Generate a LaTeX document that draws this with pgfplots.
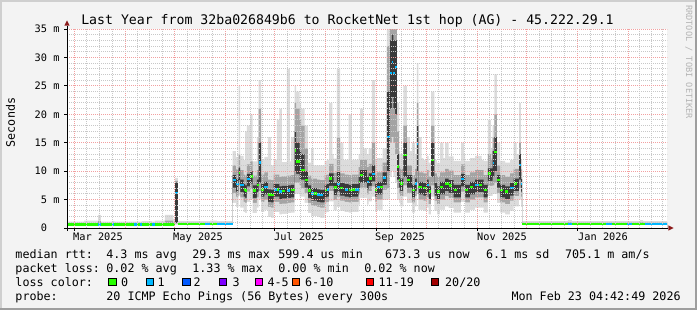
\documentclass[border=0pt]{standalone}
\usepackage{fontspec}
\setmainfont{DejaVu Sans Mono}
\usepackage{pgfplots}
\usepackage{pgfplotstable}
\pgfplotsset{compat=1.18}

\definecolor{bgc}{HTML}{F3F3F3}
\definecolor{brdl}{HTML}{CFCFCF}
\definecolor{brdd}{HTML}{9E9E9E}
\definecolor{gridc}{HTML}{C8C8C8}
\definecolor{mgridc}{HTML}{F2A0A0}
\definecolor{arrowc}{HTML}{8B1A1A}
\definecolor{sk1}{HTML}{DCDCDC}
\definecolor{sk2}{HTML}{A4A4A4}
\definecolor{sk3}{HTML}{3A3A3A}
\definecolor{lc0}{HTML}{26FF00}
\definecolor{lc1}{HTML}{00B8FF}
\definecolor{lc2}{HTML}{0059FF}
\definecolor{lc3}{HTML}{7E00FF}
\definecolor{lc4}{HTML}{FF00FF}
\definecolor{lc6}{HTML}{FF5500}
\definecolor{lc11}{HTML}{FF0000}
\definecolor{lc20}{HTML}{A10000}
\definecolor{wmc}{HTML}{B4B4B4}

\newcommand{\fT}{\fontsize{13.2bp}{15bp}\selectfont}
\newcommand{\fL}{\fontsize{11.7bp}{14bp}\selectfont}
\newcommand{\fA}{\fontsize{10.3bp}{12bp}\selectfont}
\newcommand{\fW}{\fontsize{8.6bp}{10bp}\selectfont}

% d = days since 1 Mar 2025; smoke percentiles in ms; lg/lc = median (green / blue loss class), -10 = not this class
\pgfplotstableread{
d lo p10 p25 med p75 p90 hi lg lc
-4.26 .45 .5 .55 .6 .68 .8 1.1 .6 -10
6.1 .45 .5 .55 .6 .68 .85 1.3 .6 -10
14.6 .45 .5 .55 .6 .75 1.2 2.3 -10 .6
16.4 .45 .5 .55 .6 .68 .8 1.1 .6 -10
23.1 .45 .5 .55 .6 .68 .8 1.2 -10 .6
24.6 .45 .5 .55 .6 .68 .8 1.1 .6 -10
36.5 .45 .5 .55 .6 .68 .8 1.1 -10 .6
38.3 .45 .5 .55 .6 .68 .8 1.1 .6 -10
40.1 .45 .5 .55 .6 .68 .8 1.1 -10 .6
41.3 .45 .5 .55 .6 .68 .8 1.2 .6 -10
47.4 .45 .5 .55 .6 .68 .8 1.1 -10 .6
49.2 .45 .5 .55 .6 .68 .85 1.3 .6 -10
55.3 .45 .5 .55 .62 .75 1.3 2.3 .62 -10
60.2 .45 .5 .55 .62 .75 1.0 1.6 .62 -10
61.4 .6 .8 .9 6.2 8.0 8.3 8.8 -10 6.2
63.2 .55 .6 .64 .72 .8 .9 1.2 .72 -10
79.6 .55 .6 .64 .72 .8 .9 1.2 -10 .72
82.7 .55 .6 .64 .72 .8 .9 1.3 .72 -10
86.9 .55 .6 .64 .72 .8 .9 1.2 -10 .72
96.35 4.4 6.2 7.1 8.4 9.3 11.0 13.5 -10 8.4
98.36 3.7 5.5 6.4 7.7 8.6 10.3 12.5 -10 7.7
100.0 5.7 7.5 8.4 9.7 10.6 13.0 25 9.7 -10
101.03 3.6 5.4 6.3 7.6 8.5 10.2 12.7 -10 7.6
103.04 2.8 4.6 5.5 6.8 7.7 9.4 12 6.8 -10
104.07 2.6 4.4 5.3 6.6 7.5 9.2 17 6.6 -10
105.05 4.6 6.4 7.3 8.6 9.5 11.2 18 -10 8.6
107.11 5.1 6.9 7.8 9.1 10.0 11.7 20 9.1 -10
108.51 2.6 4.4 5.3 6.6 7.5 9.2 11.7 6.6 -10
110.4 2.6 4.4 5.3 6.6 7.5 9.2 11.7 -10 -10
111.12 3.6 5.4 6.3 7.6 8.5 10.2 16 7.6 -10
112.16 5.0 6.5 8.0 11.5 15.0 21.0 26 -10 11.5
113.80 2.8 4.6 5.5 6.8 7.7 9.4 12 6.8 -10
115.80 3.2 5.0 5.9 7.2 8.1 9.8 12.5 -10 7.2
117.81 1.9 3.7 4.6 5.9 6.8 8.5 16 5.9 -10
119.88 1.8 3.6 4.5 5.8 6.7 8.4 11 5.8 -10
121.28 2.8 4.6 5.5 6.8 7.7 9.4 12 -10 6.8
123.28 2.8 4.6 5.5 6.8 7.7 9.4 19 6.8 -10
124.92 2.4 4.2 5.1 6.4 7.3 9.0 21 -10 6.4
126.32 2.5 4.3 5.2 6.5 7.4 9.1 11.6 6.5 -10
128.2 2.5 4.3 5.2 6.5 7.4 9.1 11.6 -10 -10
129.36 2.6 4.4 5.3 6.6 7.5 9.2 28 -10 6.6
131.2 2.6 4.4 5.3 6.6 7.5 9.2 11.7 -10 -10
132.04 2.7 4.5 5.4 6.7 7.6 9.3 16 6.7 -10
134.04 6.0 8.0 10.0 13.6 17.0 22.0 25 13.6 -10
135.08 6.0 8.0 9.5 11.7 15.0 21.0 24 11.7 -10
137.08 5.5 7.5 8.5 10.5 13.5 19.0 22 -10 10.5
138.11 5.5 7.0 8.5 10.2 13.0 18.0 21 10.2 -10
140.12 4.4 6.2 7.1 8.4 10.0 14.0 18 8.4 -10
142.13 2.6 4.4 5.3 6.6 7.5 9.2 11.5 6.6 -10
144.19 2.1 3.9 4.8 6.1 7.0 8.7 14 -10 6.1
145.59 2.1 3.9 4.8 6.1 7.0 8.7 11 6.1 -10
147.60 1.9 3.7 4.6 5.9 6.8 8.5 11 -10 5.9
149.66 1.8 3.6 4.5 5.8 6.7 8.4 11 -10 5.8
151.5 1.8 3.6 4.5 5.8 6.7 8.4 11 -10 -10
152.28 2.7 4.5 5.4 6.7 7.6 9.3 11.8 6.7 -10
153.68 2.8 4.6 5.5 6.8 7.7 9.4 12 -10 6.8
155.14 4.7 6.5 7.4 8.7 9.6 11.3 22 8.7 -10
157.0 4.7 6.5 7.4 8.7 9.6 11.3 13 -10 -10
157.75 3.1 4.9 5.8 7.1 8.0 9.7 12.2 7.1 -10
159.76 3.7 5.5 6.4 7.7 10.0 16.0 28 -10 7.7
161.82 3.0 4.8 5.7 7.0 7.9 9.6 15 7.0 -10
163.7 3.0 4.8 5.7 7.0 7.9 9.6 12 -10 -10
164.44 2.8 4.6 5.5 6.8 7.7 9.4 12 -10 6.8
166.3 2.8 4.6 5.5 6.8 7.7 9.4 12 -10 -10
166.87 2.7 4.5 5.4 6.7 7.6 9.3 20 6.7 -10
168.87 2.8 4.6 5.5 6.8 7.7 9.4 12 6.8 -10
170.94 2.8 4.6 5.5 6.8 7.7 9.4 12 -10 6.8
172.95 4.1 5.9 6.8 8.1 9.0 10.7 13 8.1 -10
173.98 5.3 7.1 8.0 9.3 10.2 12.0 21 9.3 -10
175.8 5.3 7.1 8.0 9.3 10.2 12.0 14 -10 -10
178.00 4.1 5.9 6.8 8.1 9.0 10.7 13 -10 8.1
179.03 4.7 6.5 7.4 8.7 9.6 11.3 14 8.7 -10
181.03 5.5 7.3 8.2 9.5 11.0 15.0 26 -10 9.5
183.10 2.8 4.6 5.5 6.8 7.7 9.4 12 6.8 -10
184.07 3.2 5.0 5.9 7.2 8.1 9.8 12.3 -10 7.2
186.14 3.2 5.0 5.9 7.2 8.1 9.8 12.3 7.2 -10
187.54 4.9 6.7 7.6 8.9 9.8 11.5 14 -10 8.9
189.4 4.9 6.7 7.6 8.9 9.8 11.5 14 -10 -10
190.15 5.0 7.0 10.0 16.0 24.0 32.0 36 -10 16.0
192.22 9.0 15.0 21.0 27.3 33.0 36.0 36 -10 27.3
193.19 10.0 16.0 23.0 29.2 34.0 36.0 36 -10 29.2
194.22 9.0 15.0 21.0 27.3 33.0 36.0 36 -10 27.3
195.26 8.0 13.0 20.0 28.3 33.0 36.0 36 -10 28.3
196.23 5.0 7.0 8.5 10.8 13.0 17.0 22 10.8 -10
197.69 4.4 6.2 7.1 8.4 9.3 11.0 13.5 8.4 -10
198.30 3.8 5.6 6.5 7.8 8.7 10.4 13 7.8 -10
200.30 5.5 7.5 9.0 12.8 15.0 18.0 25 12.8 -10
202.31 4.4 6.2 7.1 8.4 9.3 11.0 16 8.4 -10
204.2 4.4 6.2 7.1 8.4 9.3 11.0 13.5 -10 -10
205.35 2.7 4.5 5.4 6.7 7.6 9.3 15 6.7 -10
207.42 3.8 5.6 6.5 7.8 8.7 10.4 13 -10 7.8
208.39 6.0 8.0 10.0 14.8 18.0 22.0 29 -10 14.8
209.42 3.2 5.0 5.9 7.2 8.1 9.8 16 7.2 -10
211.3 3.2 5.0 5.9 7.2 8.1 9.8 12.3 -10 -10
212.46 3.0 4.8 5.7 7.0 7.9 9.6 12 7.0 -10
214.47 3.6 5.4 6.3 7.6 8.5 10.2 12.7 -10 7.6
215.50 2.4 4.2 5.1 6.4 7.3 9.0 11.5 6.4 -10
217.14 5.5 7.5 9.0 12.0 15.0 18.0 24 12.0 -10
219.0 3.0 4.8 5.7 7.0 7.9 9.6 12 -10 -10
220.55 2.4 4.2 5.1 6.4 7.3 9.0 11.5 6.4 -10
222.61 3.2 5.0 5.9 7.2 8.1 9.8 15 7.2 -10
224.5 3.2 5.0 5.9 7.2 8.1 9.8 12.3 -10 -10
225.65 3.8 5.6 6.5 7.8 8.7 10.4 15 7.8 -10
227.66 3.5 5.3 6.2 7.5 8.4 10.1 12.6 7.5 -10
229.5 3.5 5.3 6.2 7.5 8.4 10.1 12.6 -10 -10
230.70 2.7 4.5 5.4 6.7 7.6 9.3 11.8 6.7 -10
232.6 2.7 4.5 5.4 6.7 7.6 9.3 11.8 -10 -10
235.38 4.6 6.4 7.3 8.6 9.5 11.2 15 -10 8.6
237.2 4.6 6.4 7.3 8.6 9.5 11.2 13 -10 -10
237.81 2.7 4.5 5.4 6.7 7.6 9.3 11.8 6.7 -10
239.7 2.7 4.5 5.4 6.7 7.6 9.3 11.8 -10 -10
240.85 3.2 5.0 5.9 7.2 8.1 9.8 12.3 7.2 -10
242.7 3.2 5.0 5.9 7.2 8.1 9.8 12.3 -10 -10
243.89 3.6 5.4 6.3 7.6 8.5 10.2 12.7 -10 7.6
245.90 3.6 5.4 6.3 7.6 8.5 10.2 12.7 7.6 -10
247.8 3.6 5.4 6.3 7.6 8.5 10.2 12 -10 -10
248.94 2.7 4.5 5.4 6.7 7.6 9.3 11.8 6.7 -10
250.8 2.7 4.5 5.4 6.7 7.6 9.3 11.8 -10 -10
251.55 5.6 7.4 8.3 9.6 10.5 13.0 19 9.6 -10
253.4 5.6 7.4 8.3 9.6 10.5 12.2 14 -10 -10
254.41 6.0 7.5 9.0 11.4 13.5 16.0 18 -10 11.4
255.62 6.0 8.0 10.0 13.4 16.0 20.0 27 13.4 -10
257.02 4.4 6.2 7.1 8.4 9.3 11.0 15 8.4 -10
259.09 2.7 4.5 5.4 6.7 7.6 9.3 11.8 6.7 -10
261.0 2.7 4.5 5.4 6.7 7.6 9.3 11.8 -10 -10
262.13 2.4 4.2 5.1 6.4 7.3 9.0 11.5 6.4 -10
264.0 2.4 4.2 5.1 6.4 7.3 9.0 11.5 -10 -10
265.17 3.0 4.8 5.7 7.0 7.9 9.6 12 -10 7.0
267.18 3.8 5.6 6.5 7.8 8.7 10.4 15 7.8 -10
269.1 3.8 5.6 6.5 7.8 8.7 10.4 13 -10 -10
270.64 5.0 7.0 8.5 11.1 13.0 15.0 22 -10 11.1
271.61 3.7 5.5 6.4 7.7 8.6 10.3 12 -10 7.7
272.34 .55 .6 .64 .72 .8 .9 1.2 .72 -10
300.3 .55 .6 .64 .72 .8 1.0 1.4 -10 .72
302.7 .55 .6 .64 .72 .8 .9 1.2 .72 -10
323.4 .55 .6 .64 .72 .8 .9 1.2 -10 .72
327.0 .55 .6 .64 .72 .8 .9 1.2 .72 -10
336.2 .55 .6 .64 .72 .8 .9 1.2 -10 .72
339.0 .55 .6 .64 .72 .8 .9 1.2 .72 -10
344.1 .55 .6 .64 .72 .8 1.0 1.4 .72 -10
346.0 .55 .6 .64 .72 .8 .9 1.2 .72 -10
347.1 .55 .6 .64 .72 .8 .9 1.2 -10 .72
360.5 .55 .6 .64 .72 .8 .9 1.2 -10 .72
}\smoke

\begin{document}
\begin{tikzpicture}[x=1bp,y=1bp]
\useasboundingbox (0,0) rectangle (697,310);
\fill[bgc] (0,0) rectangle (697,310);
\fill[brdl] (0,0) rectangle (2,310);
\fill[brdl] (0,308) rectangle (697,310);
\fill[brdd] (0,0) rectangle (697,2);
\fill[brdd] (695,0) rectangle (697,310);
\fill[white] (67,82) rectangle (667,281);

\begin{axis}[
  at={(67bp,82bp)}, anchor=south west,
  scale only axis, width=600bp, height=199bp,
  xmin=-4.26, xmax=360.5, ymin=0, ymax=35,
  axis on top, clip=true,
  axis line style={draw=none},
  major tick length=0pt, minor tick length=0pt,
  xtick={0,31,61,92,122,153,184,214,245,275,306,337},
  xticklabels={},
  minor xtick={7.75,15.5,23.25,38.5,46,53.5,68.75,76.5,84.25,99.5,107,114.5,129.75,137.5,145.25,160.75,168.5,176.25,191.5,199,206.5,221.75,229.5,237.25,252.5,260,267.5,282.75,290.5,298.25,313.75,321.5,329.25,344,351,358},
  extra x ticks={14.6,75.4,136.8,198.2,260.2,321.6},
  extra x tick labels={Mar 2025,May 2025,Jul 2025,Sep 2025,Nov 2025,Jan 2026},
  extra x tick style={grid=none},
  xticklabel style={font=\fA, anchor=base, inner sep=0pt, yshift=-12bp},
  ytick={0,5,10,15,20,25,30,35},
  yticklabels={0\hphantom{xm},5 m,10 m,15 m,20 m,25 m,30 m,35 m},
  minor y tick num=4,
  yticklabel style={font=\fA, anchor=east, inner sep=0pt, xshift=-7.3bp},
  grid=both,
  major grid style={draw=mgridc, line width=1bp, dash pattern=on 1bp off 1bp},
  minor grid style={draw=gridc, line width=1bp, dash pattern=on 1bp off 1bp},
]
\addplot[const plot, fill=sk1, draw=none] table[x=d,y=hi] {\smoke} \closedcycle;
\addplot[const plot, fill=sk2, draw=none] table[x=d,y=p90] {\smoke} \closedcycle;
\addplot[const plot, fill=sk3, draw=none] table[x=d,y=p75] {\smoke} \closedcycle;
\addplot[const plot, fill=sk2, draw=none] table[x=d,y=p25] {\smoke} \closedcycle;
\addplot[const plot, fill=sk1, draw=none] table[x=d,y=p10] {\smoke} \closedcycle;
\addplot[const plot, fill=white, draw=none] table[x=d,y=lo] {\smoke} \closedcycle;
\addplot[jump mark left, draw=lc0, line width=2.5bp] table[x=d,y=lg] {\smoke};
\addplot[jump mark left, draw=lc1, line width=2.5bp] table[x=d,y=lc] {\smoke};
\end{axis}

% axes with arrows
\draw[black, line width=1bp] (67,79) -- (67,284.3);
\fill[arrowc] (67,289.5) -- (64.3,284.3) -- (69.7,284.3) -- cycle;
\draw[black, line width=1bp] (64,82) -- (668.3,82);
\fill[arrowc] (673.5,82) -- (668.3,84.7) -- (668.3,79.3) -- cycle;
\foreach \xx in {74,174.3,274.7,376.7,477,577.4} {\draw[black, line width=1bp] (\xx,82) -- (\xx,79);}
\foreach \yy in {110.4,138.9,167.3,195.7,224.1,252.6,281} {\draw[black, line width=1bp] (64,\yy) -- (67,\yy);}

% title, unit, watermark
\node[anchor=base, inner sep=0pt] at (347.5,286) {\fT Last Year from 32ba026849b6 to RocketNet 1st hop (AG) - 45.222.29.1};
\node[rotate=90, inner sep=0pt] at (10.5,187.5) {\fL Seconds};
\node[rotate=-90, anchor=west, inner sep=0pt, text=wmc] at (689,305) {\fW RRDTOOL / TOBI OETIKER};

% legend
\begin{scope}[every node/.style={anchor=base west, inner sep=0pt}]
\node at (15.3,52) {\fL median rtt:};
\node at (106.2,52) {\fL 4.3 ms avg};
\node at (192.2,52) {\fL 29.3 ms max};
\node at (278.2,52) {\fL 599.4 us min};
\node at (384.9,52) {\fL 673.3 us now};
\node at (485.9,52) {\fL 6.1 ms sd};
\node at (564.9,52) {\fL 705.1 m am/s};

\node at (15.3,38) {\fL packet loss:};
\node at (106.2,38) {\fL 0.02 \% avg};
\node at (192.2,38) {\fL 1.33 \% max};
\node at (278.2,38) {\fL 0.00 \% min};
\node at (364.2,38) {\fL 0.02 \% now};

\node at (15.3,24) {\fL loss color:};
\node at (121,24) {\fL 0};
\node at (157.5,24) {\fL 1};
\node at (193.5,24) {\fL 2};
\node at (232.3,24) {\fL 3};
\node at (267.3,24) {\fL 4-5};
\node at (305,24) {\fL 6-10};
\node at (378.5,24) {\fL 11-19};
\node at (445,24) {\fL 20/20};

\node at (15.3,10) {\fL probe:};
\node at (106.2,10) {\fL 20 ICMP Echo Pings (56 Bytes) every 300s};
\node[anchor=base east] at (680.8,10) {\fL Mon Feb 23 04:42:49 2026};
\end{scope}
\foreach \sx/\sc in {108.3/lc0,145.7/lc1,182.3/lc2,219/lc3,255/lc4,292/lc6,365.7/lc11,430.7/lc20} {
  \filldraw[fill=\sc, draw=black, line width=0.8bp] (\sx+0.4,24.7) rectangle (\sx+7.6,31.9);
}
\end{tikzpicture}
\end{document}
